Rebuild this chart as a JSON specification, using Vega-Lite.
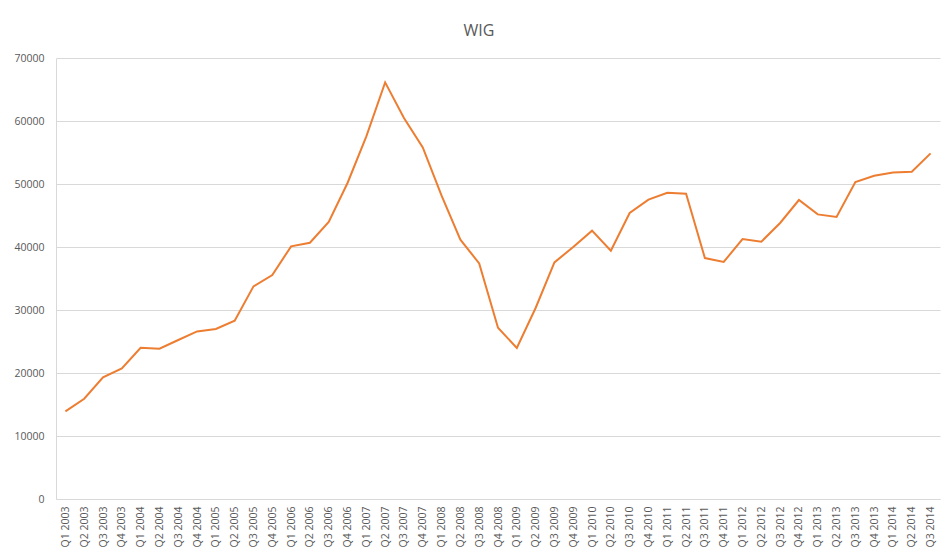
{
  "$schema": "https://vega.github.io/schema/vega-lite/v6.json",
  "autosize": {"type": "none"},
  "padding": {"left": 56, "top": 58, "right": 10, "bottom": 54},
  "width": 884,
  "height": 441,
  "background": "white",
  "title": {"text": "WIG", "fontSize": 16, "font": "Open Sans", "fontWeight": "normal", "color": "#595959", "anchor": "middle", "dx": -19, "offset": 14},
  "config": {"view": {"stroke": null}},
  "data": {"values": [
    {"q": "Q1 2003", "v": 13900},
    {"q": "Q2 2003", "v": 15920},
    {"q": "Q3 2003", "v": 19300},
    {"q": "Q4 2003", "v": 20730},
    {"q": "Q1 2004", "v": 24015},
    {"q": "Q2 2004", "v": 23860},
    {"q": "Q3 2004", "v": 25240},
    {"q": "Q4 2004", "v": 26600},
    {"q": "Q1 2005", "v": 26980},
    {"q": "Q2 2005", "v": 28300},
    {"q": "Q3 2005", "v": 33750},
    {"q": "Q4 2005", "v": 35550},
    {"q": "Q1 2006", "v": 40100},
    {"q": "Q2 2006", "v": 40680},
    {"q": "Q3 2006", "v": 43970},
    {"q": "Q4 2006", "v": 50160},
    {"q": "Q1 2007", "v": 57560},
    {"q": "Q2 2007", "v": 66130},
    {"q": "Q3 2007", "v": 60475},
    {"q": "Q4 2007", "v": 55810},
    {"q": "Q1 2008", "v": 48140},
    {"q": "Q2 2008", "v": 41160},
    {"q": "Q3 2008", "v": 37400},
    {"q": "Q4 2008", "v": 27190},
    {"q": "Q1 2009", "v": 23970},
    {"q": "Q2 2009", "v": 30320},
    {"q": "Q3 2009", "v": 37560},
    {"q": "Q4 2009", "v": 40000},
    {"q": "Q1 2010", "v": 42590},
    {"q": "Q2 2010", "v": 39410},
    {"q": "Q3 2010", "v": 45400},
    {"q": "Q4 2010", "v": 47510},
    {"q": "Q1 2011", "v": 48620},
    {"q": "Q2 2011", "v": 48460},
    {"q": "Q3 2011", "v": 38250},
    {"q": "Q4 2011", "v": 37620},
    {"q": "Q1 2012", "v": 41270},
    {"q": "Q2 2012", "v": 40840},
    {"q": "Q3 2012", "v": 43810},
    {"q": "Q4 2012", "v": 47460},
    {"q": "Q1 2013", "v": 45180},
    {"q": "Q2 2013", "v": 44760},
    {"q": "Q3 2013", "v": 50320},
    {"q": "Q4 2013", "v": 51320},
    {"q": "Q1 2014", "v": 51840},
    {"q": "Q2 2014", "v": 51950},
    {"q": "Q3 2014", "v": 54860}
  ]},
  "mark": {"type": "line", "color": "#ED7D31", "strokeWidth": 2},
  "encoding": {
    "x": {
      "field": "q", "type": "ordinal", "sort": null,
      "scale": {"type": "point", "padding": 0.5},
      "axis": {
        "title": null, "labelAngle": -90, "labelAlign": "right", "labelBaseline": "middle",
        "labelPadding": 7, "ticks": false, "domainColor": "#d9d9d9", "domainWidth": 1,
        "grid": false, "labelFont": "Open Sans", "labelFontSize": 10.5, "labelColor": "#595959"
      }
    },
    "y": {
      "field": "v", "type": "quantitative",
      "scale": {"domain": [0, 70000], "nice": false},
      "axis": {
        "title": null, "values": [0, 10000, 20000, 30000, 40000, 50000, 60000, 70000],
        "format": "d", "ticks": false, "labelPadding": 12, "domainColor": "#d9d9d9",
        "gridColor": "#d9d9d9", "gridWidth": 1,
        "labelFont": "Open Sans", "labelFontSize": 10.5, "labelColor": "#595959"
      }
    }
  }
}
